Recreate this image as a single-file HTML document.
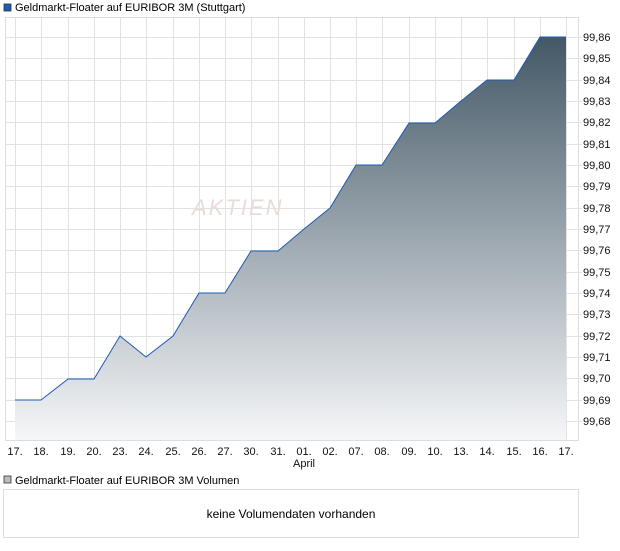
<!DOCTYPE html>
<html><head><style>
body{margin:0;background:#fff;font-family:"Liberation Sans",sans-serif;}
</style></head><body>
<svg width="620" height="546" xmlns="http://www.w3.org/2000/svg" font-family="Liberation Sans, sans-serif" font-size="11">
<defs><linearGradient id="g" x1="0" y1="0" x2="0" y2="1">
<stop offset="0" stop-color="#435866"/><stop offset="1" stop-color="#f6f7f9"/></linearGradient></defs>
<rect x="4" y="4" width="7" height="7" fill="#1f5bb5" stroke="#333" stroke-width="0.8"/>
<text x="15" y="11">Geldmarkt-Floater auf EURIBOR 3M (Stuttgart)</text>
<rect x="5.5" y="17.5" width="573" height="423" fill="#fff" stroke="#ddd"/>
<g stroke="#e2e2e2" stroke-width="1">
<line x1="15.5" y1="18" x2="15.5" y2="440"/><line x1="41.5" y1="18" x2="41.5" y2="440"/><line x1="68.5" y1="18" x2="68.5" y2="440"/><line x1="94.5" y1="18" x2="94.5" y2="440"/><line x1="120.5" y1="18" x2="120.5" y2="440"/><line x1="146.5" y1="18" x2="146.5" y2="440"/><line x1="173.5" y1="18" x2="173.5" y2="440"/><line x1="199.5" y1="18" x2="199.5" y2="440"/><line x1="225.5" y1="18" x2="225.5" y2="440"/><line x1="251.5" y1="18" x2="251.5" y2="440"/><line x1="278.5" y1="18" x2="278.5" y2="440"/><line x1="304.5" y1="18" x2="304.5" y2="440"/><line x1="330.5" y1="18" x2="330.5" y2="440"/><line x1="356.5" y1="18" x2="356.5" y2="440"/><line x1="382.5" y1="18" x2="382.5" y2="440"/><line x1="409.5" y1="18" x2="409.5" y2="440"/><line x1="435.5" y1="18" x2="435.5" y2="440"/><line x1="461.5" y1="18" x2="461.5" y2="440"/><line x1="487.5" y1="18" x2="487.5" y2="440"/><line x1="514.5" y1="18" x2="514.5" y2="440"/><line x1="540.5" y1="18" x2="540.5" y2="440"/><line x1="566.5" y1="18" x2="566.5" y2="440"/>
<line x1="5" y1="37.5" x2="582" y2="37.5"/><line x1="5" y1="58.5" x2="582" y2="58.5"/><line x1="5" y1="80.5" x2="582" y2="80.5"/><line x1="5" y1="101.5" x2="582" y2="101.5"/><line x1="5" y1="122.5" x2="582" y2="122.5"/><line x1="5" y1="144.5" x2="582" y2="144.5"/><line x1="5" y1="165.5" x2="582" y2="165.5"/><line x1="5" y1="186.5" x2="582" y2="186.5"/><line x1="5" y1="208.5" x2="582" y2="208.5"/><line x1="5" y1="229.5" x2="582" y2="229.5"/><line x1="5" y1="250.5" x2="582" y2="250.5"/><line x1="5" y1="272.5" x2="582" y2="272.5"/><line x1="5" y1="293.5" x2="582" y2="293.5"/><line x1="5" y1="314.5" x2="582" y2="314.5"/><line x1="5" y1="336.5" x2="582" y2="336.5"/><line x1="5" y1="357.5" x2="582" y2="357.5"/><line x1="5" y1="378.5" x2="582" y2="378.5"/><line x1="5" y1="400.5" x2="582" y2="400.5"/><line x1="5" y1="421.5" x2="582" y2="421.5"/>
</g>
<text x="192" y="215" font-size="22" fill="#e8ddd6" font-style="italic" letter-spacing="2">AKTIEN</text>
<polygon points="15,400 41,400 68,379 94,379 120,336 146,357 173,336 199,293 225,293 251,251 278,251 304,229 330,208 356,165 382,165 409,123 435,123 461,101 487,80 514,80 540,37 566,37 566,440 15,440" fill="url(#g)"/>
<polyline points="15,400 41,400 68,379 94,379 120,336 146,357 173,336 199,293 225,293 251,251 278,251 304,229 330,208 356,165 382,165 409,123 435,123 461,101 487,80 514,80 540,37 566,37" fill="none" stroke="#1f5bb5" stroke-width="1"/>
<g fill="#111">
<text x="583" y="41">99,86</text><text x="583" y="62">99,85</text><text x="583" y="84">99,84</text><text x="583" y="105">99,83</text><text x="583" y="126">99,82</text><text x="583" y="148">99,81</text><text x="583" y="169">99,80</text><text x="583" y="190">99,79</text><text x="583" y="212">99,78</text><text x="583" y="233">99,77</text><text x="583" y="254">99,76</text><text x="583" y="276">99,75</text><text x="583" y="297">99,74</text><text x="583" y="318">99,73</text><text x="583" y="340">99,72</text><text x="583" y="361">99,71</text><text x="583" y="382">99,70</text><text x="583" y="404">99,69</text><text x="583" y="425">99,68</text>
</g>
<g text-anchor="middle" fill="#111">
<text x="15" y="455">17.</text><text x="41" y="455">18.</text><text x="68" y="455">19.</text><text x="94" y="455">20.</text><text x="120" y="455">23.</text><text x="146" y="455">24.</text><text x="173" y="455">25.</text><text x="199" y="455">26.</text><text x="225" y="455">27.</text><text x="251" y="455">30.</text><text x="278" y="455">31.</text><text x="304" y="455">01.</text><text x="330" y="455">02.</text><text x="356" y="455">07.</text><text x="382" y="455">08.</text><text x="409" y="455">09.</text><text x="435" y="455">10.</text><text x="461" y="455">13.</text><text x="487" y="455">14.</text><text x="514" y="455">15.</text><text x="540" y="455">16.</text><text x="566" y="455">17.</text>
<text x="304" y="467">April</text>
</g>
<rect x="4" y="476" width="7" height="7" fill="#bbb" stroke="#333" stroke-width="0.8"/>
<text x="15" y="484">Geldmarkt-Floater auf EURIBOR 3M Volumen</text>
<rect x="3.5" y="489.5" width="575" height="48" fill="#fff" stroke="#ddd"/>
<text x="291" y="518" text-anchor="middle" font-size="12">keine Volumendaten vorhanden</text>
</svg>
</body></html>
